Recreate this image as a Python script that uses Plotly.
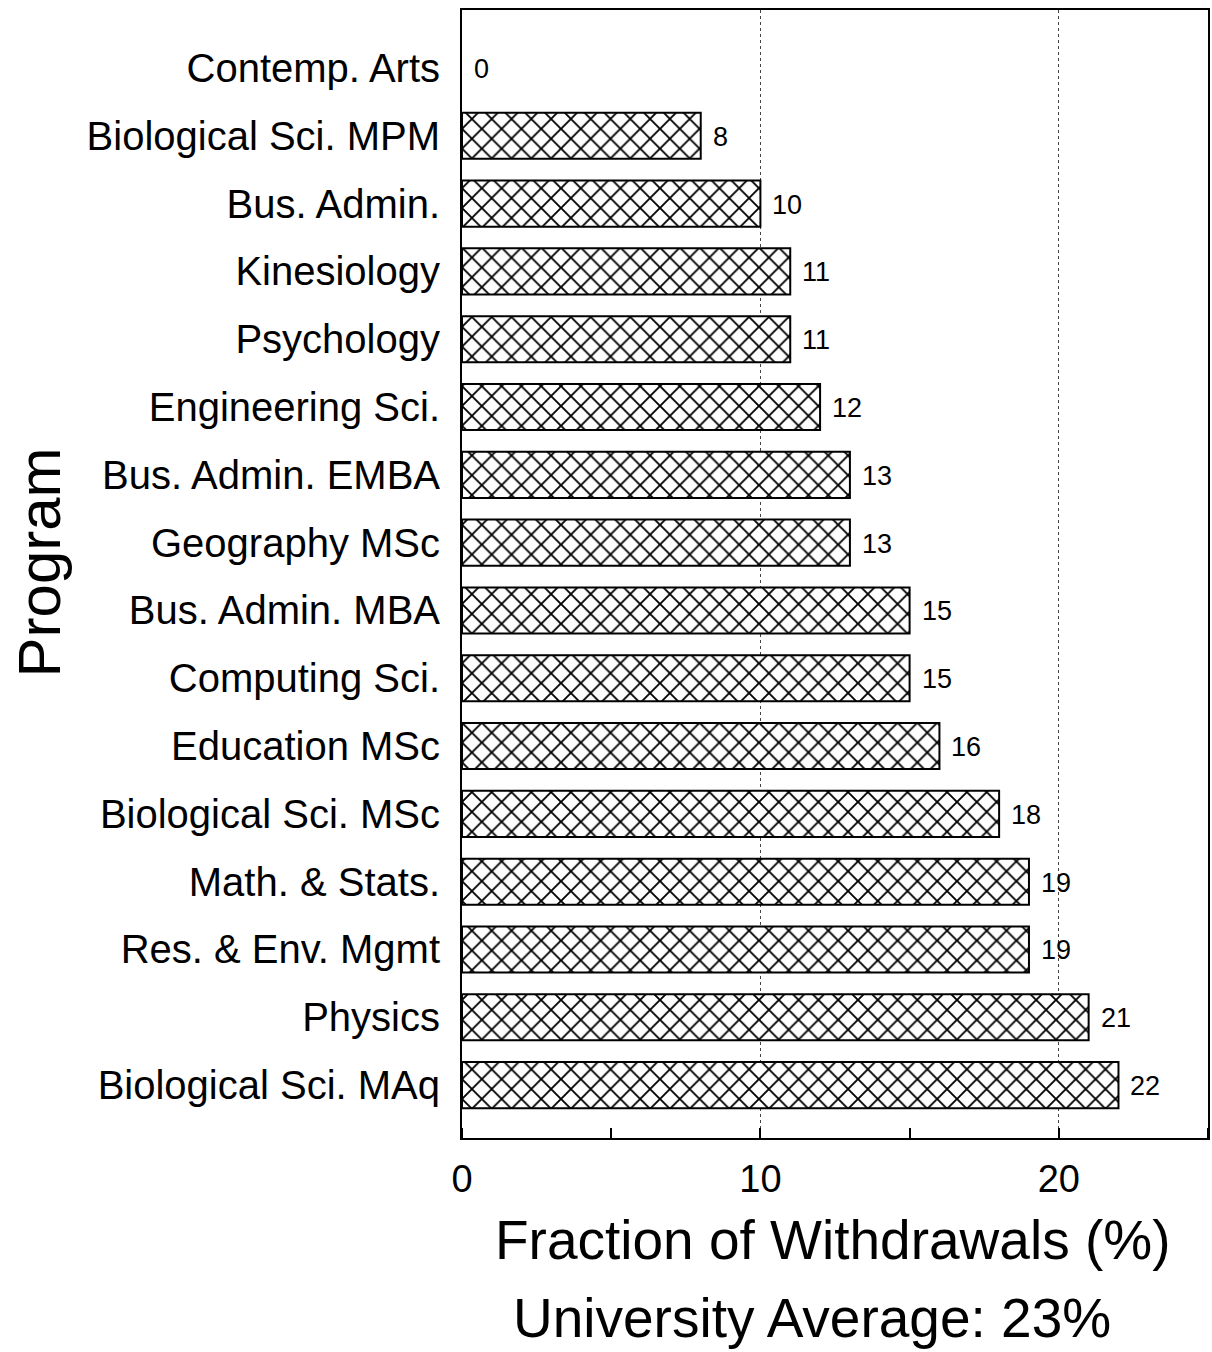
import plotly.graph_objects as go

programs = [
    "Contemp. Arts", "Biological Sci. MPM", "Bus. Admin.", "Kinesiology",
    "Psychology", "Engineering Sci.", "Bus. Admin. EMBA", "Geography MSc",
    "Bus. Admin. MBA", "Computing Sci.", "Education MSc", "Biological Sci. MSc",
    "Math. & Stats.", "Res. & Env. Mgmt", "Physics", "Biological Sci. MAq",
]
withdrawals = [0, 8, 10, 11, 11, 12, 13, 13, 15, 15, 16, 18, 19, 19, 21, 22]
x_ticks = [0, 10, 20]
x_title = "Fraction of Withdrawals (%)"
subtitle = "University Average: 23%"
y_title = "Program"

FONT = "Liberation Sans, Arial, Helvetica, sans-serif"

fig = go.Figure()
fig.add_trace(go.Bar(
    x=withdrawals, y=programs, orientation="h", width=0.68,
    marker=dict(
        color="white",
        line=dict(color="black", width=[2 if v > 0 else 0 for v in withdrawals]),
        pattern=dict(shape="x", fgcolor="black", bgcolor="white", fgopacity=1,
                     size=14, solidity=0.25, fillmode="overlay"),
    ),
    showlegend=False,
))

for v, p in zip(withdrawals, programs):
    fig.add_annotation(x=v, y=p, text=str(v), showarrow=False,
                       xanchor="left", yanchor="middle", xshift=10, yshift=-1,
                       font=dict(family=FONT, size=27, color="black"))

fig.add_annotation(xref="paper", yref="paper", x=-0.566, y=0.51,
                   text=y_title, textangle=-90, showarrow=False,
                   xanchor="center", yanchor="middle",
                   font=dict(family=FONT, size=60, color="black"))
fig.add_annotation(xref="paper", yref="paper", x=0.496, y=-0.0904,
                   text=x_title, showarrow=False,
                   xanchor="center", yanchor="middle",
                   font=dict(family=FONT, size=55, color="black"))
fig.add_annotation(xref="paper", yref="paper", x=0.469, y=-0.1596,
                   text=subtitle, showarrow=False,
                   xanchor="center", yanchor="middle",
                   font=dict(family=FONT, size=55, color="black"))

fig.update_layout(
    width=1212, height=1352,
    margin=dict(l=462, r=2, t=10, b=214),
    paper_bgcolor="white", plot_bgcolor="white",
    font=dict(family=FONT, color="black"),
    xaxis=dict(
        range=[0, 25], tickvals=x_ticks, ticks="",
        showgrid=True, gridcolor="#444444", griddash="dot", gridwidth=1,
        showline=True, linecolor="black", linewidth=2, mirror=True,
        zeroline=False,
        tickfont=dict(family=FONT, size=38, color="black"),
        ticklabelstandoff=6,
        minor=dict(dtick=5, tick0=0, ticks="inside", ticklen=10,
                   tickcolor="black", tickwidth=1.5, showgrid=False),
    ),
    yaxis=dict(
        categoryorder="array", categoryarray=programs,
        range=[15.78, -0.855], ticks="", showgrid=False,
        showline=True, linecolor="black", linewidth=2, mirror=True,
        zeroline=False,
        tickfont=dict(family=FONT, size=40, color="black"),
        ticklabelstandoff=12,
    ),
)

fig.write_html(
    "out.html",
    config={"displayModeBar": False},
    post_script="document.body.style.margin='0';document.body.style.overflow='hidden';",
)
